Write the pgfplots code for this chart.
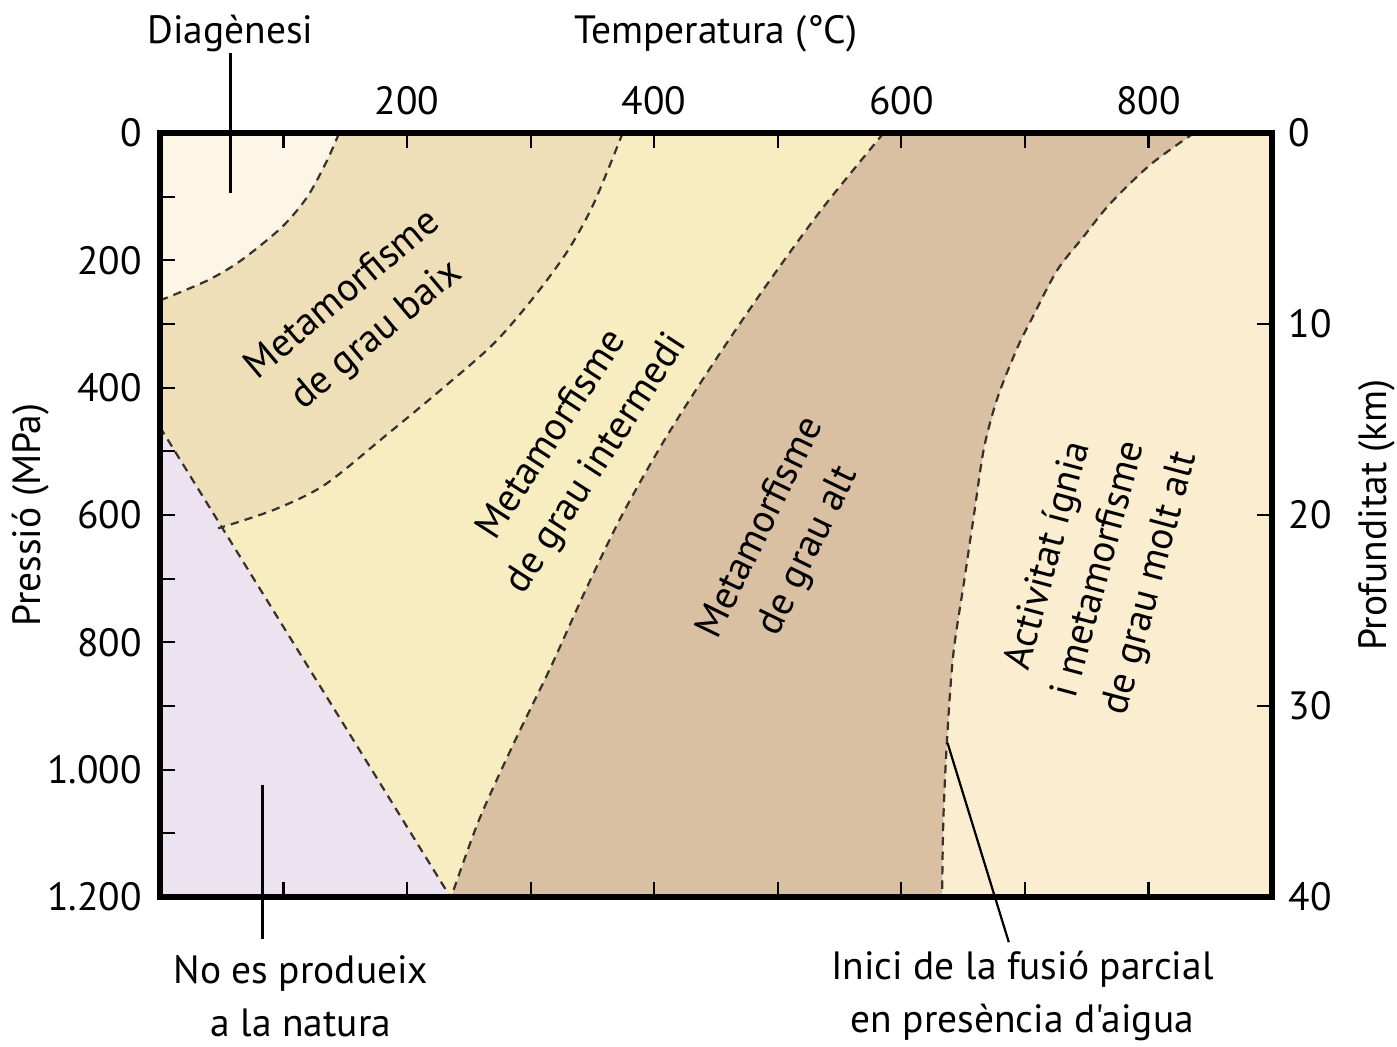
\documentclass[border=0pt]{standalone}
\usepackage{fontspec}
\setmainfont{PT Sans}[Ligatures=TeXOff]
\usepackage{pgfplots}
\pgfplotsset{compat=1.18}
\definecolor{cdiag}{RGB}{253,245,230}
\definecolor{clow}{RGB}{239,223,184}
\definecolor{cint}{RGB}{248,236,193}
\definecolor{chigh}{RGB}{218,192,162}
\definecolor{cvhigh}{RGB}{251,237,207}
\definecolor{cpurp}{RGB}{237,227,240}
\definecolor{cdash}{RGB}{55,50,45}
\newcommand\myfont{\fontsize{14.2}{19}\selectfont}
\begin{document}
\begin{tikzpicture}[font=\myfont]
\begin{axis}[
  width=400.32pt, height=275.04pt, scale only axis,
  xmin=0, xmax=900, ymin=0, ymax=1200, y dir=reverse,
  axis line style={line width=2.3pt, black},
  tick align=inside,
  xtick={200,400,600,800}, minor xtick={100,300,500,700},
  xticklabel pos=upper, xtick pos=both,
  ytick={0,200,400,600,800,1000,1200},
  yticklabels={0,200,400,600,800,1.000,1.200},
  minor ytick={100,300,500,700,900,1100},
  ytick pos=left,
  major tick length=5.5pt, minor tick length=5.5pt,
  every tick/.style={black, line width=0.8pt},
  /pgf/number format/assume math mode=true,
  xticklabel style={font=\myfont, yshift=3pt},
  yticklabel style={font=\myfont, xshift=-3pt},
  clip mode=individual,
  axis on top,
]
% background: very high grade
\addplot[draw=none, fill=cvhigh, mark=none] coordinates {(0,0) (900,0) (900,1200) (0,1200)};
% high grade (left of curve 4)
\addplot[draw=none, fill=chigh, mark=none] coordinates {(0,0) (837,0) (802,49) (769,111) (747,164) (726,216) (705,294) (694,337) (678,415) (667,494) (659,597) (651,702) (642,820) (637,953) (634,1080) (633,1200) (0,1200)};
% intermediate grade (left of curve 3)
\addplot[draw=none, fill=cint, mark=none] coordinates {(0,0) (585.7,0) (535.5,120) (490.5,240) (448.4,360) (409,480) (374,600) (344,720) (316,840) (286,960) (258,1080) (235.7,1200) (0,1200)};
% low grade
\addplot[draw=none, fill=clow, mark=none] coordinates {(0,0) (374.5,0) (351,111) (330,185) (302.5,258) (270,331) (227,404) (181,478) (133,553) (92,592) (47,621) (0,462)};
% diagenesis
\addplot[draw=none, fill=cdiag, mark=none] coordinates {(0,0) (145,0) (135,44) (119,101) (98,149) (65,201) (38,232) (0,263)};
% does not occur in nature
\addplot[draw=none, fill=cpurp, mark=none] coordinates {(0,462) (235,1200) (0,1200)};
% boundaries
\pgfplotsset{bnd/.style={smooth, mark=none, draw=cdash, line width=0.8pt, dash pattern=on 3pt off 2.2pt}}
\addplot[bnd] coordinates {(0,263) (38,232) (65,201) (98,149) (119,101) (135,44) (145,0)};
\addplot[bnd] coordinates {(374.5,0) (351,111) (330,185) (302.5,258) (270,331) (227,404) (181,478) (133,553) (92,592) (47,621)};
\addplot[bnd, smooth=false] coordinates {(0,462) (235,1200)};
\addplot[bnd] coordinates {(585.7,0) (535.5,120) (490.5,240) (448.4,360) (409,480) (374,600) (344,720) (316,840) (286,960) (258,1080) (235.7,1200)};
\addplot[bnd] coordinates {(837,0) (802,49) (769,111) (747,164) (726,216) (705,294) (694,337) (678,415) (667,494) (659,597) (651,702) (642,820) (637,953) (634,1080) (633,1200)};
% region labels
\node[rotate=40, align=center] at (axis cs:162,287) {Metamorfisme\\de grau baix};
\node[rotate=57, align=center] at (axis cs:336,498) {Metamorfisme\\de grau intermedi};
\node[rotate=64, align=center] at (axis cs:506,639) {Metamorfisme\\de grau alt};
\node[rotate=75, align=center] at (axis cs:761,686) {Activitat ígnia\\i metamorfisme\\de grau molt alt};
% annotations
\draw[line width=0.8pt] (axis cs:57,-125) -- (axis cs:57,95);
\draw[line width=0.8pt] (axis cs:83,1024) -- (axis cs:83,1266);
\draw[line width=0.8pt] (axis cs:637.4,958) -- (axis cs:687,1271);
\node[anchor=base] at (axis cs:450,-141) {Temperatura (°C)};
\node[anchor=base] at (axis cs:57,-141) {Diagènesi};
\node[rotate=90] at (axis cs:-105,600) {Pressió (MPa)};
\node[rotate=90] at (axis cs:985,600) {Profunditat (km)};
\node[align=center] at (axis cs:114,1356) {No es produeix\\a la natura};
\node[align=center] at (axis cs:698,1356) {Inici de la fusió parcial\\en presència d'aigua};
\coordinate (bbsw) at (axis cs:-129.5,1435.6);
\coordinate (bbne) at (axis cs:1001.2,-208.9);
\end{axis}
\begin{axis}[
  width=400.32pt, height=275.04pt, scale only axis,
  xmin=0, xmax=900, ymin=0, ymax=40, y dir=reverse,
  hide x axis, axis y line*=right,
  axis line style={draw=none},
  ytick={0,10,20,30,40},
  tick align=inside,
  major tick length=5.5pt,
  every tick/.style={black, line width=0.8pt},
  /pgf/number format/assume math mode=true,
  yticklabel style={font=\myfont, xshift=2.5pt},
]
\addplot[draw=none, mark=none] coordinates {(0,0) (900,40)};
\end{axis}
\pgfresetboundingbox
\path[use as bounding box] (bbsw) rectangle (bbne);
\end{tikzpicture}
\end{document}
